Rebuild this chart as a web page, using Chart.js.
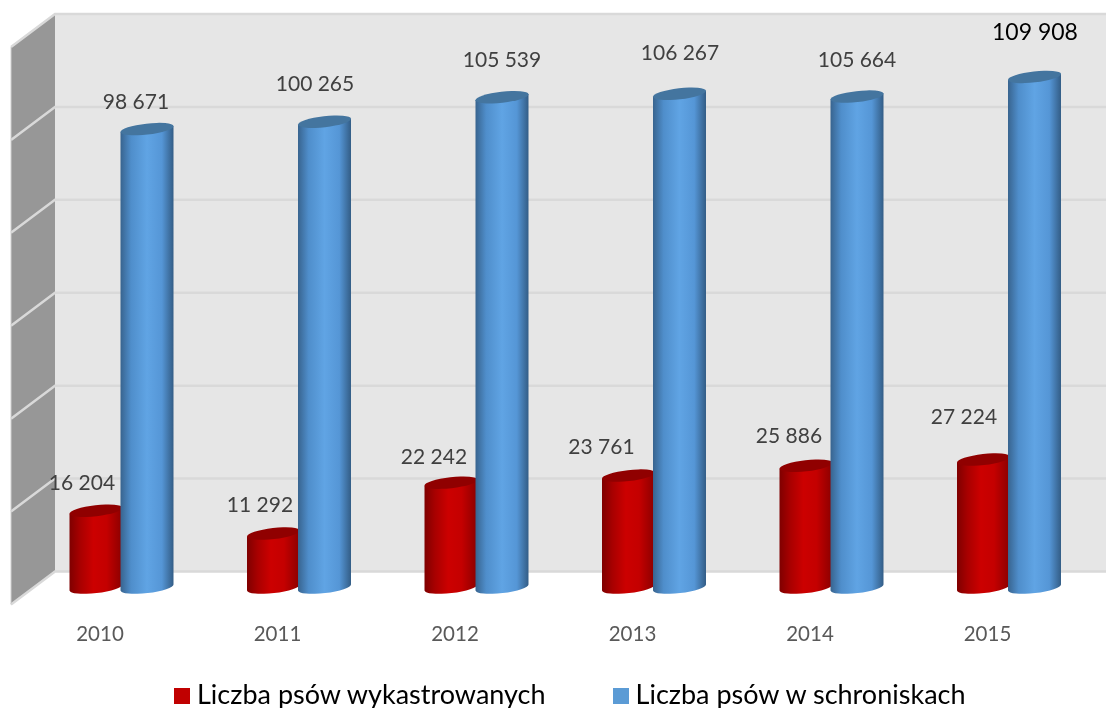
<!DOCTYPE html>
<html lang="pl">
<head>
<meta charset="utf-8">
<title>Liczba psów</title>
<script src="https://cdn.jsdelivr.net/npm/chart.js@4"></script>
<style>
  html, body { margin: 0; padding: 0; background: #fff; overflow: hidden; }
  #wrap { position: relative; width: 1106px; height: 708px; }
  #legend { position: absolute; left: 174px; top: 678px; display: flex; font: 27px Lato, sans-serif; color: #000; line-height: 32px; white-space: nowrap; }
  .legend-item { display: flex; align-items: center; margin-right: 67px; }
  .legend-box { width: 16px; height: 16px; margin-right: 7px; margin-top: 3px; }
</style>
</head>
<body>
<div id="wrap">
  <canvas id="chart" width="1106" height="708"></canvas>
  <div id="legend"></div>
</div>
<script>
// Chart data
const categories = ['2010', '2011', '2012', '2013', '2014', '2015'];
const neuteredDogs = [16204, 11292, 22242, 23761, 25886, 27224];
const shelterDogs = [98671, 100265, 105539, 106267, 105664, 109908];

// Data labels were moved by hand in the original, so they need nudges
const neuteredLabelDx = [-14, -13.5, -17, -27, -17, -19.5];
const neuteredLabelDy = [-27, -28, -25, -28, -30, -42];
const shelterLabelDx = [-11, -9.5, 0, 0.5, 0, 0.5];
const shelterLabelDy = [-27, -37, -37, -41, -36, -44];

const WALL_DEPTH_X = 44;
const WALL_DEPTH_Y = 16;
const SIDE_WALL_DROP = 33;
const TILT = -6.5 * Math.PI / 180;

function formatValue(v) {
  return String(v).replace(/\B(?=(\d{3})+$)/g, ' ');
}

// Back wall, side wall and gridlines, taken from the y scale
const wallsPlugin = {
  id: 'walls',
  beforeDatasetsDraw(chart) {
    const { ctx, scales: { y }, width } = chart;
    const backX = 55;
    const frontX = backX - WALL_DEPTH_X;
    const top = y.getPixelForValue(y.max) - WALL_DEPTH_Y;
    const bottom = y.getPixelForValue(y.min) - WALL_DEPTH_Y;

    ctx.save();
    ctx.fillStyle = '#e6e6e6';
    ctx.fillRect(backX, top, width - backX, bottom - top);

    ctx.fillStyle = '#979797';
    ctx.beginPath();
    ctx.moveTo(frontX, top + SIDE_WALL_DROP);
    ctx.lineTo(backX, top);
    ctx.lineTo(backX, bottom);
    ctx.lineTo(frontX, bottom + SIDE_WALL_DROP);
    ctx.closePath();
    ctx.fill();

    ctx.strokeStyle = '#d9d9d9';
    ctx.lineWidth = 2.5;
    y.ticks.forEach(tick => {
      const py = y.getPixelForValue(tick.value) - WALL_DEPTH_Y;
      ctx.beginPath();
      ctx.moveTo(frontX, py + SIDE_WALL_DROP);
      ctx.lineTo(backX, py);
      ctx.lineTo(width, py);
      ctx.stroke();
    });
    ctx.beginPath();
    ctx.moveTo(frontX, top + SIDE_WALL_DROP);
    ctx.lineTo(frontX, bottom + SIDE_WALL_DROP);
    ctx.strokeStyle = '#d0d0d0';
    ctx.lineWidth = 1;
    ctx.stroke();
    ctx.restore();
  }
};

function drawCylinder(ctx, cx, topY, baseY, halfWidth, look) {
  const rx = halfWidth / Math.cos(TILT);
  const ry = 5.5;
  const dy = rx * Math.sin(TILT);

  const grad = ctx.createLinearGradient(cx - halfWidth, 0, cx + halfWidth, 0);
  look.stops.forEach(s => grad.addColorStop(s[0], s[1]));

  // Body
  ctx.beginPath();
  ctx.moveTo(cx - halfWidth, topY - dy);
  ctx.lineTo(cx - halfWidth, baseY - dy);
  ctx.ellipse(cx, baseY, rx, ry, TILT, Math.PI, 0, true);
  ctx.lineTo(cx + halfWidth, topY + dy);
  ctx.closePath();
  ctx.fillStyle = grad;
  ctx.fill();

  // Cap
  ctx.beginPath();
  ctx.ellipse(cx, topY, rx, ry, TILT, 0, Math.PI * 2);
  ctx.fillStyle = look.cap;
  ctx.fill();
}

// Default flat bars are skipped, the bar elements only give the geometry
const cylinderPlugin = {
  id: 'cylinders',
  beforeDatasetDraw() {
    return false;
  },
  afterDatasetsDraw(chart) {
    const { ctx } = chart;
    chart.data.datasets.forEach((ds, i) => {
      chart.getDatasetMeta(i).data.forEach(bar => {
        ctx.save();
        drawCylinder(ctx, bar.x, bar.y + ds.topShift, bar.base, bar.width / 2 + 1, ds.look);
        ctx.restore();
      });
    });

    ctx.save();
    ctx.textAlign = 'center';
    ctx.textBaseline = 'middle';
    chart.data.datasets.forEach((ds, i) => {
      chart.getDatasetMeta(i).data.forEach((bar, j) => {
        // The last shelter label is larger and black in the original
        const isLast = i === 1 && j === 5;
        ctx.font = (isLast ? '23px' : '21px') + ' Lato, sans-serif';
        ctx.fillStyle = isLast ? '#000' : '#404040';
        ctx.fillText(formatValue(ds.data[j]), bar.x + ds.labelDx[j], bar.y + ds.topShift + ds.labelDy[j]);
      });
    });
    ctx.restore();
  }
};

const chart = new Chart(document.getElementById('chart'), {
  type: 'bar',
  data: {
    labels: categories,
    datasets: [{
      label: 'Liczba psów wykastrowanych',
      data: neuteredDogs,
      backgroundColor: '#c00000',
      topShift: -1.5,
      labelDx: neuteredLabelDx,
      labelDy: neuteredLabelDy,
      look: {
        cap: '#900000',
        stops: [[0, '#7f0000'], [0.2, '#a80000'], [0.45, '#cc0000'], [0.7, '#c40000'], [1, '#8a0000']]
      }
    }, {
      label: 'Liczba psów w schroniskach',
      data: shelterDogs,
      backgroundColor: '#5b9bd5',
      topShift: 0,
      labelDx: shelterLabelDx,
      labelDy: shelterLabelDy,
      look: {
        cap: '#44759f',
        stops: [[0, '#38648f'], [0.2, '#4f8ecb'], [0.5, '#60a4e4'], [0.78, '#5596d6'], [1, '#335d86']]
      }
    }]
  },
  options: {
    responsive: false,
    animation: false,
    events: [],
    layout: { padding: { left: 32.75, right: 8.25, top: 30, bottom: 0 } },
    datasets: { bar: { categoryPercentage: 0.5746, barPercentage: 1 } },
    scales: {
      x: {
        grid: { display: false },
        border: { display: false },
        afterFit(scale) { scale.height = 120.5; },
        ticks: {
          padding: 27,
          labelOffset: -21.5,
          maxRotation: 0,
          color: '#595959',
          font: { family: 'Lato, sans-serif', size: 20.5 }
        }
      },
      y: {
        display: false,
        min: 0,
        max: 120000,
        ticks: { stepSize: 20000 }
      }
    },
    plugins: {
      legend: { display: false },
      tooltip: { enabled: false }
    }
  },
  plugins: [wallsPlugin, cylinderPlugin]
});

// HTML legend
const legendEl = document.getElementById('legend');
chart.data.datasets.forEach(ds => {
  const item = document.createElement('div');
  item.className = 'legend-item';
  const box = document.createElement('span');
  box.className = 'legend-box';
  box.style.background = ds.backgroundColor;
  const text = document.createElement('span');
  text.textContent = ds.label;
  item.appendChild(box);
  item.appendChild(text);
  legendEl.appendChild(item);
});
</script>
</body>
</html>
